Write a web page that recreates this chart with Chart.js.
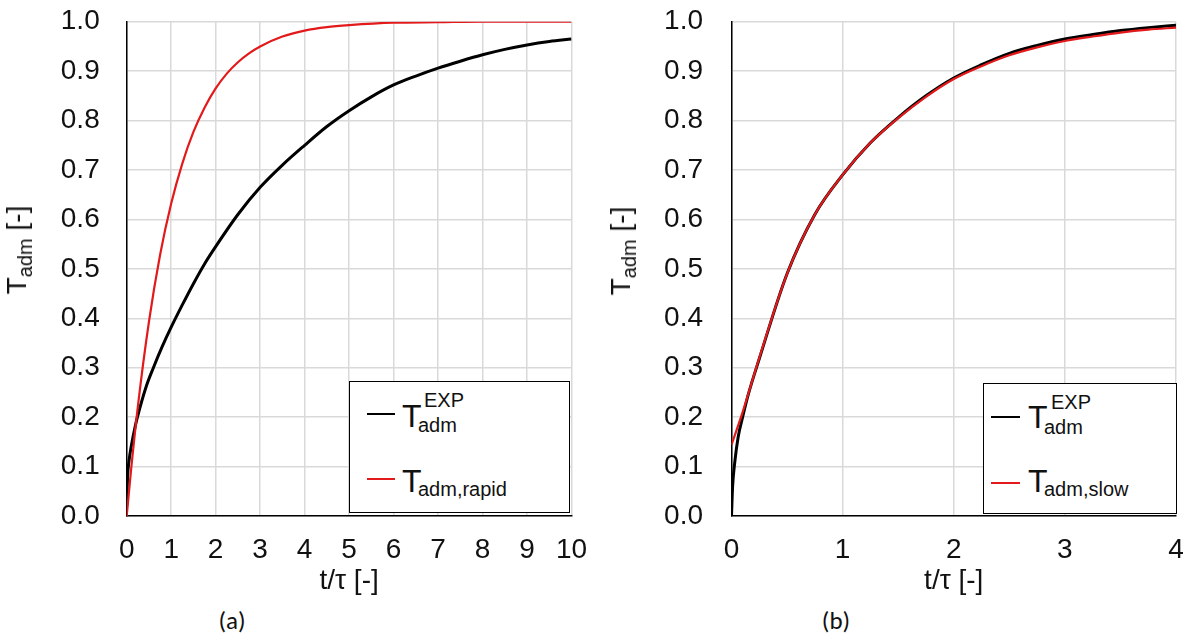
<!DOCTYPE html>
<html lang="en">
<head>
  <meta charset="UTF-8">
  <title>T_adm vs t/tau</title>
  <script src="https://cdn.jsdelivr.net/npm/chart.js"></script>
  <style>
    body { margin: 0; background: #fff; width: 1190px; height: 642px; position: relative; overflow: hidden; font-family: "Liberation Sans", Arial, sans-serif; }
    canvas { position: absolute; top: 0; }
    .ytitle { position: absolute; font-size: 28px; line-height: 28px; color: #111; white-space: nowrap;
              transform: translate(-50%, -50%) rotate(-90deg); }
    .ytitle sub { font-size: 20px; vertical-align: -6px; }
    .legend { position: absolute; border: 1.5px solid #000; background: #fff; box-sizing: border-box; }
    .legend .ln { position: absolute; height: 2px; }
    .legend .T { position: absolute; font-size: 32px; line-height: 32px; color: #111; }
    .legend .sm { position: absolute; font-size: 20px; line-height: 20px; color: #111; white-space: nowrap; }
    .cap { position: absolute; top: 605px; font-family: Carlito, "Open Sans", sans-serif; font-size: 25px; color: #111; transform: translateX(-50%); }
  </style>
</head>
<body>
  <canvas id="chartA" width="595" height="600" style="left:0"></canvas>
  <canvas id="chartB" width="595" height="600" style="left:595px"></canvas>

  <div class="ytitle" style="left:21px; top:250px">T<sub>adm</sub> [-]</div>
  <div class="ytitle" style="left:625px; top:251px">T<sub>adm</sub> [-]</div>

  <!-- legend (a) -->
  <div class="legend" style="left:349px; top:381px; width:221px; height:132px">
    <div class="ln" style="left:17px; top:31px; width:28px; background:#000"></div>
    <div class="T" style="left:52px; top:18px">T</div>
    <div class="sm" style="left:74px; top:8px">EXP</div>
    <div class="sm" style="left:68px; top:33px">adm</div>
    <div class="ln" style="left:17px; top:96px; width:28px; background:#e31a1c"></div>
    <div class="T" style="left:52px; top:83px">T</div>
    <div class="sm" style="left:68px; top:97px">adm,rapid</div>
  </div>

  <!-- legend (b) -->
  <div class="legend" style="left:983px; top:383px; width:194px; height:131px">
    <div class="ln" style="left:7px; top:32px; width:29px; background:#000"></div>
    <div class="T" style="left:44px; top:17px">T</div>
    <div class="sm" style="left:67px; top:8px">EXP</div>
    <div class="sm" style="left:60px; top:33px">adm</div>
    <div class="ln" style="left:7px; top:98px; width:29px; background:#e31a1c"></div>
    <div class="T" style="left:44px; top:81px">T</div>
    <div class="sm" style="left:60px; top:95px">adm,slow</div>
  </div>

  <div class="cap" style="left:232px">(a)</div>
  <div class="cap" style="left:836px">(b)</div>

  <script>
    // (a) experiment vs rapid model, t/tau 0..10
    const rapidT = [0, 0.1, 0.25, 0.5, 0.75, 1, 1.25, 1.5, 1.75, 2, 2.25, 2.5, 2.75, 3, 3.5, 4, 4.5, 5, 6, 7, 8, 9, 10];
    const rapidY = [0.0, 0.095, 0.221, 0.393, 0.528, 0.632, 0.713, 0.777, 0.826, 0.865, 0.895, 0.918, 0.936, 0.95, 0.97, 0.982, 0.989, 0.993, 0.998, 0.999, 1.0, 1.0, 1.0];
    const expAT = [0, 0.02, 0.05, 0.1, 0.2, 0.3, 0.45, 0.6, 0.8, 1.0, 1.25, 1.5, 1.75, 2.0, 2.5, 3.0, 3.5, 4.0, 4.5, 5.0, 5.5, 6.0, 6.5, 7.0, 7.5, 8.0, 8.5, 9.0, 9.5, 10];
    const expAY = [0.02, 0.08, 0.11, 0.14, 0.185, 0.22, 0.265, 0.3, 0.343, 0.382, 0.427, 0.47, 0.51, 0.545, 0.61, 0.665, 0.71, 0.75, 0.788, 0.82, 0.848, 0.872, 0.89, 0.906, 0.92, 0.933, 0.944, 0.953, 0.96, 0.965];

    // (b) experiment vs slow model, t/tau 0..4
    const slowT = [0, 0.1, 0.25, 0.5, 0.75, 1, 1.25, 1.5, 1.75, 2, 2.25, 2.5, 2.75, 3, 3.25, 3.5, 3.75, 4];
    const slowY = [0.144, 0.21, 0.32, 0.49, 0.61, 0.69, 0.755, 0.805, 0.848, 0.884, 0.91, 0.932, 0.948, 0.961, 0.97, 0.978, 0.984, 0.988];
    const expBT = [0, 0.01, 0.03, 0.06, 0.1, 0.15, 0.25, 0.5, 0.75, 1, 1.25, 1.5, 1.75, 2, 2.25, 2.5, 2.75, 3, 3.25, 3.5, 3.75, 4];
    const expBY = [0.0, 0.06, 0.11, 0.16, 0.2, 0.245, 0.318, 0.49, 0.61, 0.69, 0.755, 0.806, 0.85, 0.886, 0.913, 0.936, 0.952, 0.965, 0.974, 0.982, 0.988, 0.993];

    const xMaxA = 10, xMaxB = 4;
    const yTicks = [0, 0.1, 0.2, 0.3, 0.4, 0.5, 0.6, 0.7, 0.8, 0.9, 1.0];

    const RED = "#e31a1c";
    const GRID = "#d9d9d9";
    const tickFont = { family: "Liberation Sans", size: 28 };

    function pts(xs, ys) {
      return xs.map((x, i) => ({ x, y: ys[i] }));
    }

    function makeChart(id, xMax, modelData, expData, yWidth, padRight, yPad) {
      return new Chart(document.getElementById(id), {
        type: "line",
        data: {
          datasets: [
            { data: modelData, borderColor: RED, borderWidth: 2.2, pointRadius: 0, cubicInterpolationMode: "monotone" },
            { data: expData, borderColor: "#000", borderWidth: 3, pointRadius: 0, cubicInterpolationMode: "monotone" }
          ]
        },
        options: {
          responsive: false,
          devicePixelRatio: 1,
          animation: false,
          layout: { padding: { left: 0, top: 21.7, right: padRight, bottom: 0 } },
          plugins: { legend: { display: false }, tooltip: { enabled: false } },
          scales: {
            x: {
              type: "linear", min: 0, max: xMax,
              ticks: { stepSize: 1, font: tickFont, color: "#111", padding: 17, maxRotation: 0 },
              grid: { color: GRID, lineWidth: 1.5, drawTicks: false },
              border: { color: "#000", width: 1.5 },
              title: { display: true, text: "t/τ [-]", font: tickFont, color: "#111", padding: { bottom: 2 } },
              afterFit: s => { s.height = 84; s.paddingLeft = 0; s.paddingRight = 0; }
            },
            y: {
              min: 0, max: 1,
              afterBuildTicks: s => { s.ticks = yTicks.map(v => ({ value: v })); },
              ticks: { font: tickFont, color: "#111", padding: yPad, callback: v => v.toFixed(1) },
              grid: { color: GRID, lineWidth: 1.5, drawTicks: false },
              border: { color: "#000", width: 1.5 },
              afterFit: s => { s.width = yWidth; s.paddingTop = 0; s.paddingBottom = 0; }
            }
          }
        }
      });
    }

    makeChart("chartA", xMaxA, pts(rapidT, rapidY), pts(expAT, expAY), 126.7, 23.5, 27);
    makeChart("chartB", xMaxB, pts(slowT, slowY), pts(expBT, expBY), 136.5, 14, 28.5);
  </script>
</body>
</html>
